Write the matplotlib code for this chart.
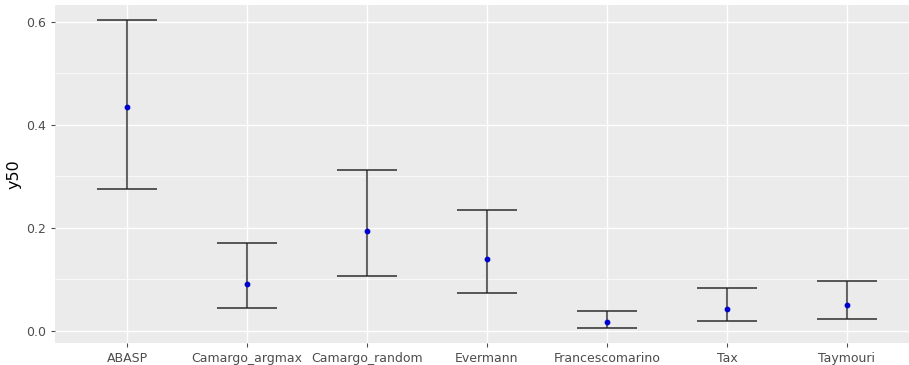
import matplotlib.pyplot as plt
import numpy as np

methods = ['ABASP', 'Camargo_argmax', 'Camargo_random', 'Evermann',
           'Francescomarino', 'Tax', 'Taymouri']
y50 = [0.434, 0.091, 0.194, 0.140, 0.017, 0.043, 0.050]
y_low = [0.276, 0.045, 0.107, 0.074, 0.006, 0.019, 0.023]
y_high = [0.602, 0.171, 0.313, 0.235, 0.038, 0.084, 0.096]

W, H = 909, 365
fig = plt.figure(figsize=(W / 100, H / 100), dpi=100)
# panel runs past the right edge in the reference (cropped image)
ax = fig.add_axes([55 / W, (H - 343) / H, 864 / W, (343 - 5) / H])
ax.set_facecolor('#EBEBEB')

x = np.arange(1, len(methods) + 1)
ax.set_xlim(0.4, len(methods) + 0.6)
ax.set_ylim(-0.0233, 0.632)

# ggplot-like grid
for yy in np.arange(0.1, 0.61, 0.2):
    ax.axhline(yy, color='white', lw=0.5, zorder=0)
for yy in np.arange(0.0, 0.61, 0.2):
    ax.axhline(yy, color='white', lw=1.0, zorder=0)
for xx in x:
    ax.axvline(xx, color='white', lw=1.0, zorder=0)

# error bars
ax.vlines(x, y_low, y_high, color='#333333', alpha=0.75, lw=1.5, zorder=2)
ax.hlines(y_low, x - 0.25, x + 0.25, color='#222222', alpha=0.8, lw=1.3, zorder=2)
ax.hlines(y_high, x - 0.25, x + 0.25, color='#222222', alpha=0.8, lw=1.3, zorder=2)
ax.scatter(x, y50, color='#0000CC', s=10, zorder=3)

ax.set_xticks(x)
ax.set_xticklabels(methods)
ax.set_yticks([0.0, 0.2, 0.4, 0.6])
ax.set_yticklabels(['0.0', '0.2', '0.4', '0.6'])
ax.tick_params(colors='#4D4D4D', labelsize=9, length=3, width=0.8)
for lab in ax.get_xticklabels() + ax.get_yticklabels():
    lab.set_color('#4D4D4D')
ax.set_ylabel('y50', fontsize=11.5, color='black')
ax.yaxis.set_label_coords(-0.039, 0.5)
for s in ax.spines.values():
    s.set_visible(False)

fig.savefig('out.png', dpi=100)
